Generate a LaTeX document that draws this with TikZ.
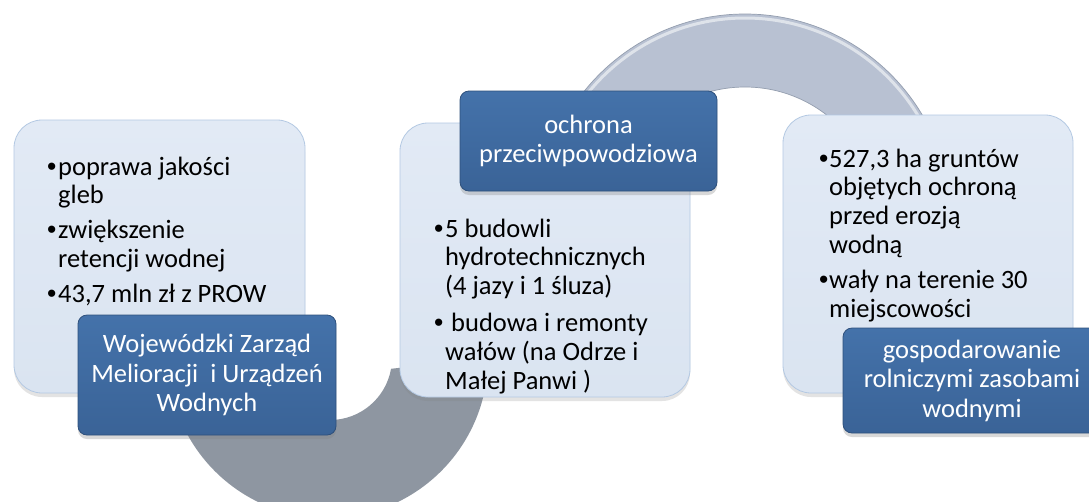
\documentclass[tikz,border=0pt]{standalone}
\usepackage{fontspec}
\setmainfont{Carlito}
\newfontfamily\bulletfont{Liberation Sans}
\usetikzlibrary{shadows}
\definecolor{lightfill}{RGB}{218,228,241}
\definecolor{lightfilltop}{RGB}{226,234,245}
\definecolor{lightborder}{RGB}{180,201,227}
\definecolor{darktop}{RGB}{68,114,170}
\definecolor{darkbot}{RGB}{58,99,151}
\definecolor{darkborder}{RGB}{46,80,124}
\definecolor{ringup}{RGB}{184,193,210}
\definecolor{ringupedge}{RGB}{148,158,175}
\definecolor{ringlow}{RGB}{142,150,161}
\newcommand{\bodyfont}{\fontsize{26.5}{28.8}\selectfont}
\newcommand{\bl}[1][11pt]{\makebox[#1][l]{{\bulletfont •}}}
\newcommand{\ind}[1][11pt]{\hspace*{#1}}
\begin{document}
\begin{tikzpicture}[x=1pt,y=-1pt,
  lightbox/.style={draw=lightborder, line width=0.8pt, top color=lightfilltop, bottom color=lightfill,
    rounded corners=28pt, inner sep=0pt,
    drop shadow={shadow xshift=0pt, shadow yshift=-4pt, opacity=0.22}},
  darkbox/.style={draw=darkborder, line width=0.8pt, top color=darktop, bottom color=darkbot,
    rounded corners=9pt, inner sep=0pt, text=white, align=center,
    font=\fontsize{26.5}{29.5}\selectfont,
    drop shadow={shadow xshift=0pt, shadow yshift=-4pt, opacity=0.3}},
  bodytext/.style={anchor=base west, inner sep=0pt, text=black},
  ringtop/.style={fill=ringup, draw=ringupedge, line width=0.7pt},
  ringbottom/.style={fill=ringlow},
]
\useasboundingbox (0,0) rectangle (1089,501);
\fill[white] (0,0) rectangle (1089,501);

% upper arc (between middle and right box)
\coordinate (uc) at (745,220);
\path[ringtop] (539,220) arc[start angle=180, end angle=360, radius=206]
  -- (878,220) arc[start angle=0, end angle=-180, radius=133] -- cycle;
\draw[white, opacity=0.55, line width=3pt] (543,220) arc[start angle=180, end angle=360, radius=202];

% lower arc (between left and middle box)
\coordinate (lc) at (328,358);
\path[ringbottom] (488,358) arc[start angle=0, end angle=180, radius=160]
  -- (268,358) arc[start angle=180, end angle=10, radius=62] -- cycle;

% light boxes
\node[lightbox, minimum width=291pt, minimum height=273pt] (b1) at (159.5,256.5) {};
\node[lightbox, minimum width=290pt, minimum height=274pt] (b2) at (545,260) {};
\node[lightbox, minimum width=290pt, minimum height=278pt] (b3) at (928,254) {};

% body texts
\node[bodytext] (t1) at (47,175) {\parbox[t]{260pt}{\raggedright\bodyfont
  \bl poprawa jakości\\
  \ind gleb\\[6pt]
  \bl zwiększenie\\
  \ind retencji wodnej\\[6pt]
  \bl 43,7 mln zł z PROW}};
\node[bodytext] (t2) at (434,237) {\parbox[t]{260pt}{\raggedright\bodyfont
  \bl 5 budowli\\
  \ind hydrotechnicznych\\
  \ind (4 jazy i 1 śluza)\\[8pt]
  \bl\ budowa i remonty\\
  \ind wałów (na Odrze i\\
  \ind Małej Panwi )}};
\node[bodytext] (t3) at (819,167) {\parbox[t]{260pt}{\raggedright\bodyfont
  \bl[10pt]527,3 ha gruntów\\
  \ind[10pt]objętych ochroną\\
  \ind[10pt]przed erozją\\
  \ind[10pt]wodną\\[6pt]
  \bl[10pt]wały na terenie 30\\
  \ind[10pt]miejscowości}};

% dark title boxes
\node[darkbox, minimum width=258pt, minimum height=120pt] (d1) at (207,375)
  {Wojewódzki Zarząd\\Melioracji\ \ i Urządzeń\\Wodnych};
\node[darkbox, minimum width=257pt, minimum height=100pt] (d2) at (588.5,141)
  {ochrona\\przeciwpowodziowa};
\node[darkbox, minimum width=258pt, minimum height=105pt] (d3) at (972,380.5)
  {gospodarowanie\\rolniczymi zasobami\\wodnymi};
\end{tikzpicture}
\end{document}
